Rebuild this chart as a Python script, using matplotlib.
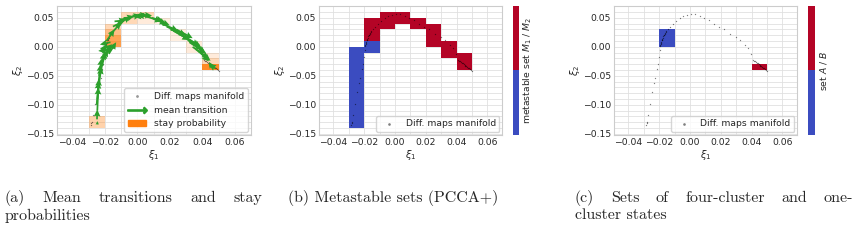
import matplotlib
matplotlib.use("Agg")
import matplotlib.pyplot as plt
import numpy as np
import seaborn as sns
from matplotlib.colors import ListedColormap, to_rgba
from matplotlib.lines import Line2D
from matplotlib.patches import Patch
from matplotlib.ticker import MultipleLocator
from matplotlib.cm import ScalarMappable

# diffusion map manifold points (xi_1, xi_2)
manifold_x = [-0.0285, -0.0282, -0.0280, -0.0275, -0.0262, -0.0245, -0.0233, -0.0226, -0.0217, -0.0209,
              -0.0200, -0.0196,
              -0.0194, -0.0192, -0.0190, -0.0188, -0.0186, -0.0184, -0.0182, -0.0179, -0.0176, -0.0173,
              -0.0170, -0.0167, -0.0164, -0.0161, -0.0158, -0.0155,
              -0.0140, -0.0128, -0.0110, -0.0091, -0.0067, -0.0046, -0.0020, 0.0007, 0.0035, 0.0067,
              0.0093, 0.0122, 0.0159, 0.0190, 0.0220, 0.0263, 0.0300, 0.0328, 0.0355, 0.0375, 0.0395,
              0.0410, 0.0416, 0.0422, 0.0428, 0.0434, 0.0440, 0.0446, 0.0452, 0.0458, 0.0464, 0.0470,
              0.0476, 0.0482, 0.0488, 0.0494, 0.0500]
manifold_y = [-0.134, -0.131, -0.129, -0.118, -0.099, -0.078, -0.063, -0.053, -0.039, -0.029,
              -0.018, -0.006,
              0.001, 0.003, 0.005, 0.007, 0.009, 0.011, 0.012, 0.014, 0.016, 0.018,
              0.020, 0.021, 0.023, 0.024, 0.026, 0.027,
              0.031, 0.0345, 0.039, 0.044, 0.0506, 0.054, 0.0557, 0.0565, 0.0563, 0.053,
              0.050, 0.046, 0.039, 0.035, 0.030, 0.023, 0.017, 0.0115, 0.004, -0.002, -0.012,
              -0.0225, -0.0237, -0.0250, -0.0262, -0.0274, -0.0286, -0.0299, -0.0311, -0.0324, -0.0336,
              -0.0348, -0.0361, -0.0373, -0.0385, -0.0398, -0.0410]

# mean transitions: start point and end point
arrow_x0 = [-0.0246, -0.0248, -0.0246, -0.0245, -0.0240, -0.0235, -0.0230, -0.0225, -0.0220, -0.0215,
            -0.0160, -0.0150, -0.0140, -0.0190, -0.0170, -0.0150, -0.0140, -0.0120, -0.0060, -0.0030,
            0.0080, 0.0050, 0.0060, 0.0120, 0.0100, 0.0150, 0.0180, 0.0200, 0.0240, 0.0260,
            0.0300, 0.0320, 0.0340, 0.0380, 0.0480, 0.0460, 0.0450,
            -0.0250, -0.0240, -0.0228, -0.0165, -0.0175, -0.0100, 0.0020, 0.0090, 0.0220, 0.0280,
            0.0310, 0.0360]
arrow_y0 = [-0.134, -0.125, -0.110, -0.090, -0.065, -0.050, -0.040, -0.030, -0.020, -0.010,
            -0.005, 0.000, -0.002, 0.010, 0.020, 0.035, 0.044, 0.040, 0.050, 0.054,
            0.052, 0.054, 0.052, 0.046, 0.048, 0.040, 0.035, 0.032, 0.030, 0.022,
            0.015, 0.008, 0.000, -0.008, -0.037, -0.035, -0.034,
            -0.100, -0.075, -0.045, 0.008, -0.012, 0.047, 0.055, 0.050, 0.028, 0.020,
            0.012, -0.004]
arrow_x1 = [-0.0246, -0.0246, -0.0240, -0.0235, -0.0225, -0.0220, -0.0200, -0.0180, -0.0160, -0.0150,
            -0.0240, -0.0230, -0.0200, -0.0140, -0.0100, -0.0080, -0.0070, -0.0040, 0.0020, 0.0060,
            0.0000, -0.0020, 0.0150, 0.0200, 0.0180, 0.0250, 0.0300, 0.0320, 0.0340, 0.0380,
            0.0400, 0.0420, 0.0440, 0.0440, 0.0440, 0.0440, 0.0450,
            -0.0238, -0.0222, -0.0195, -0.0230, -0.0130, -0.0020, 0.0090, 0.0160, 0.0320, 0.0390,
            0.0420, 0.0450]
arrow_y1 = [-0.128, -0.108, -0.070, -0.055, -0.030, -0.020, -0.010, -0.005, 0.000, 0.002,
            -0.007, -0.003, 0.001, 0.030, 0.042, 0.045, 0.046, 0.052, 0.055, 0.055,
            0.055, 0.052, 0.044, 0.037, 0.040, 0.028, 0.020, 0.012, 0.015, 0.002,
            -0.005, -0.010, -0.020, -0.025, -0.030, -0.026, -0.028,
            -0.060, -0.035, -0.008, 0.004, 0.008, 0.053, 0.054, 0.045, 0.012, 0.000,
            -0.012, -0.024]

# stay probability per 0.01 x 0.01 box (lower left corner)
stay_x = [-0.03, -0.03, -0.02, -0.02, -0.02, -0.02, -0.01, -0.01, 0.00, 0.00,
          0.01, 0.02, 0.02, 0.03, 0.03, 0.04, 0.04, 0.04]
stay_y = [-0.14, -0.13, 0.00, 0.01, 0.02, 0.03, 0.04, 0.05, 0.04, 0.05,
          0.04, 0.01, 0.02, -0.01, 0.00, -0.02, -0.03, -0.04]
stay_p = [0.35, 0.35, 0.75, 0.7, 0.5, 0.3, 0.3, 0.3, 0.15, 0.3,
          0.12, 0.12, 0.12, 0.15, 0.15, 0.15, 0.3, 0.9]

# PCCA+ metastable sets (0 = M1, 1 = M2)
pcca_x = [-0.03] * 14 + [-0.02, -0.02] + [-0.02] * 4 + [-0.01] * 3 + [0.00] * 2 + [0.01] * 2 \
         + [0.02] * 4 + [0.03] * 3 + [0.04] * 3
pcca_y = [-0.14, -0.13, -0.12, -0.11, -0.10, -0.09, -0.08, -0.07, -0.06, -0.05, -0.04, -0.03, -0.02, -0.01,
          -0.01, 0.00,
          0.01, 0.02, 0.03, 0.04,
          0.03, 0.04, 0.05,
          0.04, 0.05,
          0.03, 0.04,
          0.00, 0.01, 0.02, 0.03,
          -0.02, -0.01, 0.00,
          -0.04, -0.03, -0.02]
pcca_set = [0] * 16 + [1] * 21

# four-cluster (A) and one-cluster (B) sets
ab_x = [-0.02, -0.02, -0.02, 0.04]
ab_y = [0.00, 0.01, 0.02, -0.04]
ab_set = [0, 0, 0, 1]

box = 0.01
xlim = (-0.0494, 0.0697)
ylim = (-0.152, 0.0705)
fs = 6.7

sns.set_style("whitegrid")
plt.rcParams['font.family'] = ['DejaVu Sans']
plt.rcParams['font.size'] = fs

cw = plt.get_cmap('coolwarm')
two = ListedColormap([cw(0.0), cw(1.0)])

fig = plt.figure(figsize=(8.58, 2.45), dpi=100)


def setup(ax):
    ax.set_xlim(*xlim)
    ax.set_ylim(*ylim)
    ax.xaxis.set_major_locator(MultipleLocator(0.02))
    ax.yaxis.set_major_locator(MultipleLocator(0.05))
    ax.xaxis.set_minor_locator(MultipleLocator(0.01))
    ax.yaxis.set_minor_locator(MultipleLocator(0.01))
    ax.grid(True, which='both', color='0.88', lw=0.6)
    ax.tick_params(which='both', length=0, labelsize=fs, pad=2)
    for s in ax.spines.values():
        s.set_color('0.8')
        s.set_linewidth(0.8)
    ax.set_xlabel(r'$\xi_1$', fontsize=fs + 0.5, labelpad=1)
    ax.set_ylabel(r'$\xi_2$', fontsize=fs + 0.5, labelpad=1)
    ax.set_axisbelow(True)


def manifold(ax):
    ax.scatter(manifold_x, manifold_y, s=0.9, c='k', alpha=0.5, lw=0, label='Diff. maps manifold', zorder=3)


def colorbar(cax, label):
    cb = fig.colorbar(ScalarMappable(cmap=two), cax=cax, ticks=[])
    cb.outline.set_visible(False)
    cb.set_label(label, fontsize=fs, labelpad=2)


# (a)
ax1 = fig.add_axes([0.0664, 0.449, 0.2258, 0.5265])
setup(ax1)
ax1.bar(stay_x, box, width=box, bottom=stay_y, align='edge', lw=0,
        color=[to_rgba('tab:orange', p) for p in stay_p], zorder=2)
manifold(ax1)
ax1.quiver(arrow_x0, arrow_y0, np.subtract(arrow_x1, arrow_x0), np.subtract(arrow_y1, arrow_y0),
           angles='xy', scale_units='xy', scale=1, color='tab:green', width=0.009,
           headwidth=3.8, headlength=4, headaxislength=3.6, zorder=4)
handles = [Line2D([], [], ls='none', marker='.', ms=2, color='0.6'),
           Line2D([], [], ls='none', marker=r'$\longrightarrow$', ms=14, color='tab:green'),
           Patch(color='tab:orange')]
ax1.legend(handles, ['Diff. maps manifold', 'mean transition', 'stay probability'],
           loc='lower right', fontsize=fs, borderaxespad=0.3)

# (b)
ax2 = fig.add_axes([0.3718, 0.449, 0.2136, 0.5265])
setup(ax2)
ax2.bar(pcca_x, box, width=box, bottom=pcca_y, align='edge', lw=0,
        color=[two(s) for s in pcca_set], zorder=2)
manifold(ax2)
ax2.legend(loc='lower right', fontsize=fs, markerscale=2, borderaxespad=0.3)
colorbar(fig.add_axes([0.5983, 0.449, 0.0068, 0.5265]), r'metastable set $M_1$ / $M_2$')

# (c)
ax3 = fig.add_axes([0.7156, 0.449, 0.2136, 0.5265])
setup(ax3)
ax3.bar(ab_x, box, width=box, bottom=ab_y, align='edge', lw=0,
        color=[two(s) for s in ab_set], zorder=2)
manifold(ax3)
ax3.legend(loc='lower right', fontsize=fs, markerscale=2, borderaxespad=0.3)
colorbar(fig.add_axes([0.9420, 0.449, 0.0078, 0.5265]), r'set $A$ / $B$')

# captions
cap = dict(family='cmr10', fontsize=11.5, va='center')
renderer = fig.canvas.get_renderer()


def justify(words, x0, x1, y):
    texts = [fig.text(0, y, w, **cap) for w in words]
    widths = [t.get_window_extent(renderer).width / fig.bbox.width for t in texts]
    gap = (x1 - x0 - sum(widths)) / (len(words) - 1)
    x = x0
    for t, w in zip(texts, widths):
        t.set_x(x)
        x += w + gap


y1 = 1 - 198.5 / 245
y2 = 1 - 215.5 / 245
justify(['(a)', 'Mean', 'transitions', 'and', 'stay'], 5 / 858, 262 / 858, y1)
fig.text(5 / 858, y2, 'probabilities', **cap)
fig.text(288 / 858, y1, '(b) Metastable sets (PCCA+)', **cap)
justify(['(c)', 'Sets', 'of', 'four-cluster', 'and', 'one-'], 575 / 858, 853 / 858, y1)
fig.text(575 / 858, y2, 'cluster states', **cap)

fig.savefig('out.png', dpi=100)
